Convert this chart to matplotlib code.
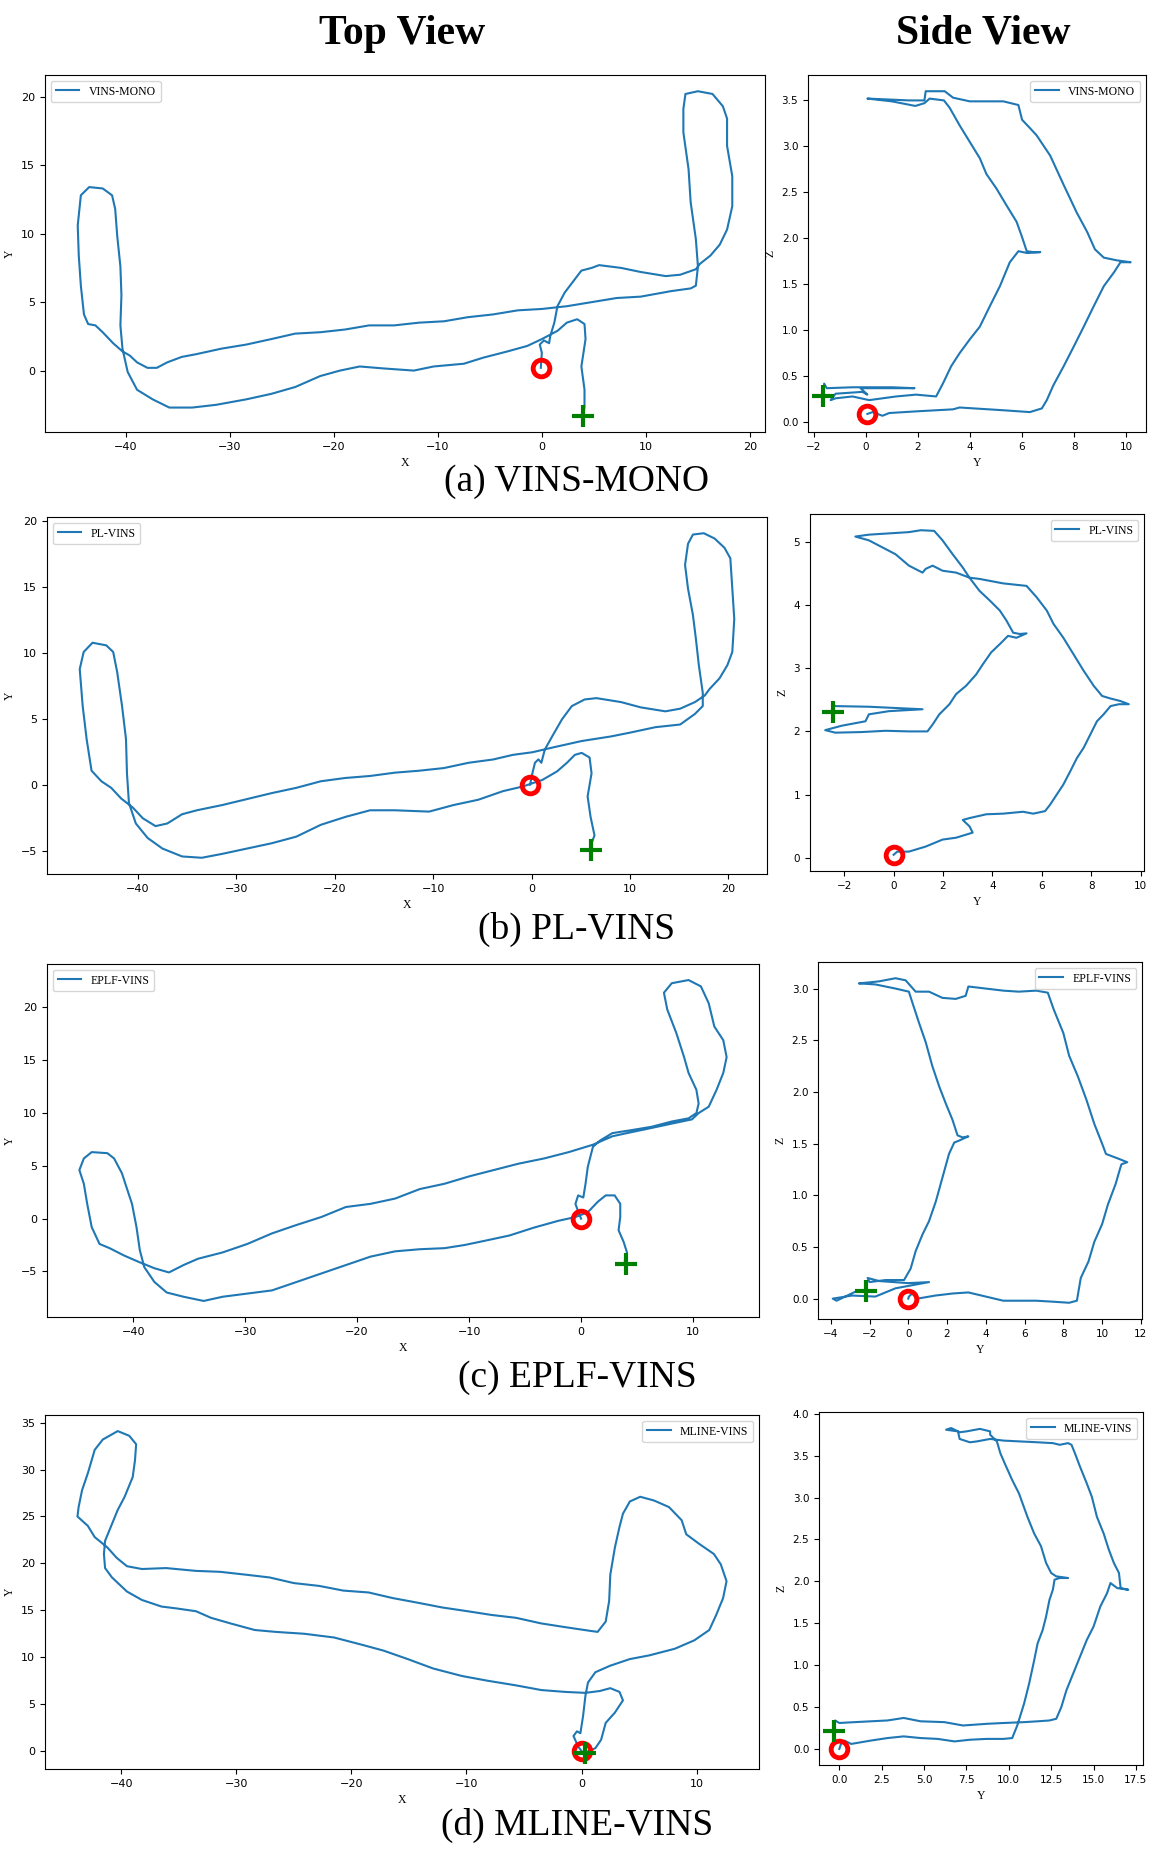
import numpy as np
import matplotlib
matplotlib.use("Agg")
import matplotlib.pyplot as plt

# trajectory waypoints (start = red circle, end = green plus)
vins_top = np.array([
    (-0.1, 0.2), (0, 1.3), (-0.2, 1.9), (0.2, 2.2), (0.7, 2.0), (0.8, 2.5), (1.2, 3.5), (1.5, 4.7),
    (2.2, 5.7), (2.9, 6.4), (3.8, 7.3), (4.8, 7.5), (5.5, 7.7), (7.6, 7.5), (9.5, 7.2), (11.9, 6.9),
    (13.3, 7.0), (14.8, 7.4), (15.2, 7.8), (16.2, 8.4), (17.1, 9.2), (17.8, 10.3), (18.3, 12.0),
    (18.3, 14.2), (17.8, 16.4), (17.8, 18.4), (17.4, 19.3), (16.4, 20.2), (15.0, 20.4), (13.8, 20.2),
    (13.6, 19.1), (13.6, 17.4), (14.1, 14.7), (14.3, 12.3), (14.8, 9.6), (15.0, 7.6), (14.8, 6.2),
    (14.3, 6.0), (12.4, 5.8), (9.5, 5.4), (7.2, 5.3), (4.8, 5.0), (2.4, 4.7), (0, 4.5), (-2.3, 4.4),
    (-4.7, 4.1), (-7.1, 3.9), (-9.4, 3.6), (-11.8, 3.5), (-14.2, 3.3), (-16.6, 3.3), (-18.9, 3.0),
    (-21.3, 2.8), (-23.7, 2.7), (-26.0, 2.3), (-28.4, 1.9), (-30.8, 1.6), (-33.2, 1.2), (-34.6, 1.0),
    (-36.0, 0.6), (-37.0, 0.2), (-37.9, 0.2), (-38.9, 0.6), (-39.6, 1.1), (-40.3, 1.4), (-41.2, 2.0),
    (-42.2, 2.8), (-42.9, 3.3), (-43.6, 3.4), (-44.0, 4.1), (-44.3, 6.2), (-44.5, 8.4), (-44.6, 10.6),
    (-44.3, 12.8), (-43.5, 13.4), (-42.2, 13.3), (-41.3, 12.8), (-41.0, 11.8), (-40.8, 9.8),
    (-40.5, 7.6), (-40.4, 5.5), (-40.5, 3.3), (-40.3, 1.6), (-39.8, -0.1), (-38.9, -1.4),
    (-37.4, -2.1), (-35.8, -2.7), (-33.6, -2.7), (-31.3, -2.5), (-28.4, -2.1), (-26.0, -1.7),
    (-23.7, -1.2), (-21.3, -0.4), (-19.4, 0.0), (-17.5, 0.3), (-15.1, 0.15), (-12.3, 0.0),
    (-10.4, 0.3), (-7.5, 0.5), (-5.6, 0.95), (-3.3, 1.4), (-1.4, 1.8), (0.0, 2.3), (1.5, 2.9),
    (2.4, 3.5), (3.4, 3.75), (4.1, 3.4), (4.2, 2.3), (3.8, 0.3), (4.1, -1.4), (4.1, -2.6), (4.0, -3.3)])

vins_side = np.array([
    (0.06, 0.09), (0.26, 0.11), (0.64, 0.07), (0.9, 0.10), (2.06, 0.12), (3.35, 0.14), (3.6, 0.16),
    (5.28, 0.13), (6.3, 0.11), (6.76, 0.15), (6.95, 0.24), (7.2, 0.40), (7.6, 0.61), (7.98, 0.82),
    (8.37, 1.04), (8.75, 1.26), (9.14, 1.48), (9.53, 1.63), (9.78, 1.74), (10.17, 1.74), (9.65, 1.76),
    (9.14, 1.79), (8.8, 1.88), (8.5, 2.07), (8.1, 2.28), (7.6, 2.58), (7.08, 2.9), (6.56, 3.12),
    (6.3, 3.2), (6.0, 3.29), (5.86, 3.45), (5.28, 3.49), (3.99, 3.49), (3.35, 3.53), (3.03, 3.6),
    (2.3, 3.6), (2.25, 3.5), (1.67, 3.5), (0.06, 3.52), (1.0, 3.49), (1.9, 3.44), (2.25, 3.47),
    (2.45, 3.52), (3.0, 3.5), (3.22, 3.42), (3.6, 3.23), (3.99, 3.05), (4.38, 2.87), (4.63, 2.70),
    (5.02, 2.54), (5.4, 2.36), (5.79, 2.18), (5.98, 2.03), (6.18, 1.86), (6.44, 1.85), (6.7, 1.85),
    (6.2, 1.84), (5.86, 1.86), (5.53, 1.74), (5.15, 1.48), (4.76, 1.26), (4.38, 1.04), (3.99, 0.9),
    (3.6, 0.75), (3.28, 0.61), (2.96, 0.42), (2.7, 0.28), (1.93, 0.30), (1.16, 0.28), (0.13, 0.24),
    (-0.51, 0.28), (-1.16, 0.26), (-1.35, 0.24), (-1.16, 0.31), (-0.13, 0.33), (0.06, 0.30),
    (-0.2, 0.37), (0.6, 0.37), (1.87, 0.37), (1.0, 0.38), (-0.5, 0.38), (-1.5, 0.37), (-1.6, 0.42),
    (-1.63, 0.29)])

pl_top = np.array([
    (-0.15, 0.05), (0.1, 0.94), (0.35, 1.7), (0.7, 1.96), (1.0, 1.7), (1.35, 2.7), (2.1, 3.7),
    (3.1, 5.0), (4.1, 6.0), (5.4, 6.5), (6.6, 6.6), (9.1, 6.3), (11.1, 5.9), (13.6, 5.6), (15.1, 5.8),
    (16.6, 6.3), (17.6, 6.8), (18.1, 7.3), (19.1, 8.1), (19.9, 9.1), (20.4, 10.1), (20.6, 12.6),
    (20.4, 14.9), (20.2, 17.2), (19.6, 18.0), (18.6, 18.7), (17.5, 19.1), (16.4, 19.0), (15.9, 18.3),
    (15.6, 16.7), (15.9, 14.9), (16.4, 12.9), (16.7, 11.1), (17.0, 9.1), (17.4, 7.0), (17.4, 6.0),
    (16.6, 5.4), (15.1, 4.6), (12.6, 4.4), (10.1, 4.0), (8.1, 3.7), (5.1, 3.35), (2.1, 2.85),
    (0.1, 2.5), (-1.9, 2.3), (-3.9, 1.95), (-6.4, 1.7), (-8.9, 1.3), (-11.4, 1.1), (-13.9, 0.95),
    (-16.4, 0.7), (-18.9, 0.55), (-21.4, 0.3), (-23.9, -0.2), (-26.4, -0.6), (-28.9, -1.05),
    (-31.4, -1.5), (-34.0, -1.9), (-35.5, -2.2), (-37.0, -2.9), (-38.2, -3.1), (-39.5, -2.5),
    (-40.5, -1.7), (-41.7, -1.0), (-42.7, -0.2), (-43.7, 0.3), (-44.7, 1.1), (-45.2, 3.5),
    (-45.6, 6.0), (-45.9, 8.8), (-45.5, 10.1), (-44.6, 10.8), (-43.2, 10.6), (-42.5, 10.1),
    (-42.1, 8.6), (-41.6, 6.0), (-41.2, 3.5), (-41.1, 0.9), (-40.9, -1.35), (-40.2, -2.9),
    (-39.0, -4.0), (-37.5, -4.8), (-35.5, -5.4), (-33.5, -5.5), (-31.4, -5.2), (-28.9, -4.8),
    (-26.4, -4.4), (-23.9, -3.9), (-21.4, -3.0), (-18.9, -2.4), (-16.4, -1.9), (-13.9, -1.9),
    (-10.4, -2.0), (-7.9, -1.5), (-5.4, -1.1), (-2.9, -0.45), (-0.9, -0.1), (1.1, 0.4), (2.6, 1.05),
    (3.6, 1.7), (4.4, 2.3), (5.1, 2.45), (5.9, 2.1), (6.1, 0.9), (5.7, -0.85), (6.0, -2.4),
    (6.4, -3.8), (6.1, -4.4), (6.0, -4.9)])

pl_side = np.array([
    (0, 0.05), (0.15, 0.1), (0.62, 0.1), (1.3, 0.18), (1.98, 0.29), (2.53, 0.32), (3.2, 0.4),
    (3.07, 0.5), (2.8, 0.6), (3.07, 0.63), (3.75, 0.69), (4.43, 0.7), (5.24, 0.73), (5.65, 0.7),
    (6.13, 0.74), (6.33, 0.84), (6.6, 1.0), (6.87, 1.16), (7.15, 1.37), (7.42, 1.58), (7.69, 1.74),
    (7.96, 1.95), (8.23, 2.16), (8.5, 2.27), (8.78, 2.4), (9.12, 2.43), (9.52, 2.43), (9.18, 2.48),
    (8.78, 2.52), (8.44, 2.56), (8.1, 2.72), (7.69, 2.96), (7.28, 3.22), (6.87, 3.48), (6.47, 3.7),
    (6.2, 3.91), (5.79, 4.12), (5.38, 4.3), (4.43, 4.34), (3.48, 4.41), (3.07, 4.43), (2.53, 4.51),
    (1.98, 4.54), (1.58, 4.62), (1.3, 4.57), (1.17, 4.51), (0.62, 4.62), (0.08, 4.8), (-0.46, 4.91),
    (-1.0, 5.02), (-1.55, 5.08), (-1.0, 5.11), (-0.19, 5.13), (0.62, 5.15), (1.1, 5.18), (1.64, 5.17),
    (1.98, 5.02), (2.39, 4.8), (2.8, 4.59), (3.07, 4.43), (3.48, 4.22), (3.89, 4.07), (4.3, 3.91),
    (4.57, 3.75), (4.84, 3.56), (5.11, 3.54), (5.38, 3.55), (4.97, 3.48), (4.63, 3.51), (4.3, 3.38),
    (3.95, 3.25), (3.61, 3.06), (3.34, 2.9), (2.93, 2.72), (2.53, 2.59), (2.26, 2.43), (1.85, 2.27),
    (1.58, 2.11), (1.37, 2.0), (0.62, 2.0), (-0.33, 2.01), (-1.28, 1.99), (-2.36, 1.98), (-2.77, 2.02),
    (-2.1, 2.09), (-1.14, 2.16), (-1.0, 2.27), (-0.19, 2.32), (1.17, 2.35), (0.08, 2.37), (-1.0, 2.39),
    (-2.36, 2.40), (-2.47, 2.43), (-2.47, 2.3)])

eplf_top = np.array([
    (0, 0), (-0.2, 0.5), (-0.5, 1.4), (-0.26, 2.2), (0.2, 2.0), (0.4, 3.3), (0.6, 4.9), (1.06, 6.8),
    (1.7, 7.4), (2.8, 8.1), (4.6, 8.4), (6.3, 8.7), (8.1, 9.2), (9.6, 9.5), (10.3, 10.0), (10.5, 10.9),
    (10.3, 12.2), (9.6, 13.8), (9.2, 15.3), (8.5, 17.6), (7.7, 19.8), (7.4, 21.4), (8.1, 22.3),
    (9.6, 22.6), (10.7, 22.0), (11.4, 20.4), (11.9, 18.2), (12.7, 16.9), (13.0, 15.3), (12.7, 13.8),
    (12.1, 12.2), (11.4, 10.6), (10.5, 10.0), (9.9, 9.4), (8.1, 9.0), (5.9, 8.5), (4.1, 8.1),
    (2.8, 7.8), (1.06, 7.0), (-1.1, 6.3), (-3.3, 5.7), (-5.6, 5.2), (-7.8, 4.6), (-10.0, 4.0),
    (-12.2, 3.3), (-14.4, 2.8), (-16.6, 1.9), (-18.8, 1.4), (-21.0, 1.1), (-23.2, 0.15), (-25.4, -0.6),
    (-27.6, -1.4), (-29.8, -2.4), (-32.0, -3.2), (-34.2, -3.8), (-35.5, -4.4), (-36.8, -5.1),
    (-38.1, -4.7), (-39.5, -4.1), (-40.8, -3.5), (-42.1, -2.8), (-43.0, -2.4), (-43.7, -0.8),
    (-44.1, 1.4), (-44.4, 3.3), (-44.8, 4.6), (-44.4, 5.7), (-43.7, 6.3), (-42.3, 6.2), (-41.7, 5.7),
    (-41.0, 4.3), (-40.6, 3.0), (-40.1, 1.4), (-39.7, -0.8), (-39.4, -3.0), (-39.0, -4.6),
    (-38.1, -6.0), (-37.0, -7.0), (-35.5, -7.4), (-33.7, -7.8), (-32.0, -7.4), (-29.8, -7.1),
    (-27.6, -6.8), (-25.4, -6.0), (-23.2, -5.2), (-21.0, -4.4), (-18.8, -3.6), (-16.6, -3.1),
    (-14.4, -2.9), (-12.2, -2.8), (-10.4, -2.5), (-8.6, -2.1), (-6.4, -1.6), (-4.2, -0.85),
    (-2.0, -0.2), (-0.5, 0.15), (0.6, 0.6), (1.5, 1.6), (2.2, 2.2), (3.0, 2.2), (3.5, 1.4),
    (3.5, 0.15), (3.35, -1.1), (3.8, -2.2), (4.1, -3.2), (3.9, -4.0), (4.05, -4.3)])

eplf_side = np.array([
    (0, 0), (0.03, 0.02), (0.2, 0.05), (0.47, 0.0), (1.4, 0.03), (2.3, 0.05), (3.1, 0.06), (4.0, 0.02),
    (4.9, -0.02), (5.7, -0.02), (6.6, -0.02), (7.5, -0.03), (8.3, -0.04), (8.7, -0.02), (8.9, 0.2),
    (9.3, 0.36), (9.6, 0.55), (10.0, 0.72), (10.3, 0.91), (10.7, 1.11), (10.9, 1.24), (11.0, 1.3),
    (11.3, 1.32), (10.9, 1.35), (10.2, 1.4), (10.0, 1.5), (9.6, 1.69), (9.2, 1.92), (8.75, 2.15),
    (8.3, 2.35), (8.0, 2.57), (7.5, 2.8), (7.2, 2.96), (6.6, 2.98), (5.7, 2.97), (4.9, 2.98),
    (4.0, 3.0), (3.1, 3.02), (2.96, 2.93), (2.45, 2.9), (1.76, 2.91), (1.07, 2.97), (0.38, 2.97),
    (-0.14, 3.08), (-0.66, 3.1), (-1.5, 3.07), (-2.0, 3.06), (-2.55, 3.05), (-1.7, 3.04),
    (-0.66, 3.0), (0.03, 2.97), (0.2, 2.87), (0.55, 2.67), (0.9, 2.48), (1.24, 2.25), (1.6, 2.05),
    (1.93, 1.89), (2.28, 1.73), (2.54, 1.58), (2.8, 1.56), (3.1, 1.57), (2.63, 1.53), (2.37, 1.51),
    (2.1, 1.4), (1.76, 1.17), (1.42, 0.94), (1.07, 0.75), (0.73, 0.62), (0.38, 0.46), (0.12, 0.29),
    (-0.22, 0.18), (-1.17, 0.18), (-2.0, 0.16), (-2.1, 0.2), (-1.5, 0.17), (0.0, 0.15), (1.07, 0.16),
    (0.2, 0.13), (-0.66, 0.1), (-1.7, 0.02), (-2.9, 0.03), (-3.9, 0.0), (-3.7, -0.02), (-2.7, 0.07),
    (-2.2, 0.07)])

mline_top = np.array([
    (0, 0), (-0.3, 0.5), (-0.7, 1.6), (-0.4, 2.1), (-0.1, 1.9), (0.13, 3.7), (0.34, 5.9), (0.56, 7.3),
    (1.2, 8.4), (2.5, 9.1), (4.2, 9.8), (5.9, 10.2), (8.1, 10.9), (9.8, 11.8), (11.1, 12.9),
    (11.7, 14.5), (12.3, 16.3), (12.6, 18.1), (12.1, 19.9), (11.5, 21.0), (10.2, 22.1), (9.1, 23.1),
    (8.7, 24.6), (7.6, 26.0), (6.3, 26.7), (5.1, 27.1), (4.2, 26.6), (3.6, 25.3), (3.3, 23.9),
    (2.9, 21.7), (2.5, 18.8), (2.4, 16.0), (2.1, 13.8), (1.4, 12.7), (0.8, 12.8), (-1.4, 13.2),
    (-3.5, 13.6), (-5.7, 14.2), (-7.8, 14.5), (-9.9, 14.9), (-12.1, 15.3), (-14.2, 15.8),
    (-16.4, 16.3), (-18.5, 16.9), (-20.7, 17.1), (-22.8, 17.6), (-25.0, 17.9), (-27.1, 18.5),
    (-29.2, 18.8), (-31.4, 19.1), (-33.5, 19.2), (-36.1, 19.5), (-38.2, 19.4), (-39.5, 19.7),
    (-40.4, 20.6), (-41.2, 21.7), (-42.3, 22.8), (-42.9, 24.0), (-43.8, 25.0), (-43.7, 26.0),
    (-43.4, 27.8), (-42.9, 29.6), (-42.3, 32.1), (-41.6, 33.2), (-40.3, 34.1), (-39.3, 33.6),
    (-38.7, 32.7), (-38.8, 31.0), (-39.0, 29.2), (-39.7, 27.1), (-40.3, 25.7), (-40.8, 24.2),
    (-41.4, 22.4), (-41.5, 21.0), (-41.4, 19.5), (-40.8, 18.5), (-39.5, 17.0), (-38.2, 16.1),
    (-36.5, 15.4), (-35.2, 15.2), (-33.5, 14.9), (-32.2, 14.2), (-30.5, 13.6), (-28.4, 12.9),
    (-26.6, 12.7), (-24.1, 12.5), (-21.5, 12.1), (-19.0, 11.3), (-17.2, 10.7), (-15.1, 9.8),
    (-12.9, 8.8), (-10.4, 8.0), (-8.2, 7.5), (-5.7, 7.0), (-3.5, 6.5), (-1.4, 6.3), (0.34, 6.2),
    (1.6, 6.4), (2.5, 6.7), (3.3, 6.3), (3.6, 5.4), (2.9, 4.1), (2.1, 3.0), (1.7, 1.2), (1.2, 0.3),
    (0.6, 0.0), (0.3, -0.2)])

mline_side = np.array([
    (0, 0), (0.1, 0.06), (0.3, 0.1), (0.7, 0.06), (1.86, 0.1), (2.84, 0.13), (3.8, 0.15), (4.8, 0.13),
    (5.8, 0.12), (6.8, 0.09), (7.7, 0.11), (8.7, 0.12), (9.7, 0.12), (10.2, 0.13), (10.5, 0.28),
    (10.9, 0.54), (11.2, 0.78), (11.5, 1.06), (11.7, 1.26), (12.0, 1.42), (12.2, 1.58), (12.4, 1.78),
    (12.6, 1.9), (12.7, 2.02), (13.0, 2.04), (13.5, 2.04), (12.8, 2.06), (12.5, 2.1), (12.2, 2.22),
    (11.9, 2.42), (11.5, 2.57), (11.1, 2.77), (10.6, 3.05), (10.2, 3.21), (9.8, 3.39), (9.5, 3.53),
    (9.3, 3.67), (8.9, 3.75), (8.9, 3.79), (8.3, 3.82), (7.5, 3.79), (7.1, 3.78), (6.6, 3.83),
    (6.3, 3.81), (7.0, 3.79), (7.1, 3.7), (7.7, 3.66), (8.1, 3.67), (8.9, 3.7), (9.7, 3.68),
    (10.7, 3.67), (11.7, 3.66), (12.6, 3.65), (13.0, 3.63), (13.5, 3.65), (13.7, 3.63), (13.9, 3.53),
    (14.2, 3.37), (14.6, 3.17), (14.9, 3.01), (15.2, 2.77), (15.6, 2.57), (15.9, 2.38), (16.2, 2.22),
    (16.5, 2.1), (16.6, 1.92), (17.05, 1.9), (16.4, 1.92), (16.0, 1.98), (15.8, 1.86), (15.4, 1.7),
    (15.0, 1.46), (14.6, 1.3), (14.2, 1.1), (13.8, 0.9), (13.4, 0.7), (13.1, 0.5), (12.8, 0.36),
    (12.4, 0.34), (11.7, 0.33), (10.9, 0.32), (9.7, 0.31), (8.7, 0.30), (7.3, 0.28), (6.2, 0.32),
    (4.8, 0.33), (3.8, 0.37), (2.84, 0.34), (1.86, 0.33), (0.9, 0.32), (0, 0.31), (-0.25, 0.34),
    (-0.3, 0.28), (-0.33, 0.21)])

methods = ["VINS-MONO", "PL-VINS", "EPLF-VINS", "MLINE-VINS"]
captions = ["(a) VINS-MONO", "(b) PL-VINS", "(c) EPLF-VINS", "(d) MLINE-VINS"]
top_data = [vins_top, pl_top, eplf_top, mline_top]
side_data = [vins_side, pl_side, eplf_side, mline_side]
top_legend_loc = ["upper left", "upper left", "upper left", "upper right"]

W, H = 1154, 1866
# axes boxes in pixels: left, top, right, bottom
top_boxes = [(45, 75, 765, 432), (47, 517, 767, 874), (47, 964, 759, 1317), (45, 1415, 759, 1769)]
side_boxes = [(808, 75, 1146, 432), (810, 514, 1144, 871), (818, 962, 1142, 1319), (819, 1412, 1143, 1765)]
caption_y = [482, 929, 1378, 1825]

SERIF = "Liberation Serif"
fig = plt.figure(figsize=(W / 100, H / 100), dpi=100)


def box(b):
    l, t, r, btm = b
    return [l / W, 1 - btm / H, (r - l) / W, (btm - t) / H]


def draw(ax, pts, name, loc, xl, yl, tick_fs):
    ax.plot(pts[:, 0], pts[:, 1], color="#1f77b4", lw=1.5, label=name)
    ax.plot(pts[0, 0], pts[0, 1], "o", ms=12, mfc="none", mec="red", mew=3.5)
    ax.plot(pts[-1, 0], pts[-1, 1], "+", ms=16, color="green", mew=3)
    ax.tick_params(labelsize=tick_fs)
    ax.set_xlabel(xl, family=SERIF, fontsize=8.5)
    ax.set_ylabel(yl, family=SERIF, fontsize=8.5)
    ax.legend(loc=loc, prop={"family": SERIF, "size": 8.5})


for i in range(4):
    ax = fig.add_axes(box(top_boxes[i]))
    draw(ax, top_data[i], methods[i], top_legend_loc[i], "X", "Y", 8)
    ax2 = fig.add_axes(box(side_boxes[i]))
    draw(ax2, side_data[i], methods[i], "upper right", "Y", "Z", 7.5)
    fig.text(577 / W, 1 - caption_y[i] / H, captions[i], family=SERIF, fontsize=27,
             ha="center", va="center")

fig.text(402 / W, 1 - 34 / H, "Top View", family=SERIF, weight="bold", fontsize=30,
         ha="center", va="center")
fig.text(983 / W, 1 - 34 / H, "Side View", family=SERIF, weight="bold", fontsize=30,
         ha="center", va="center")

fig.savefig("out.png", dpi=100)
